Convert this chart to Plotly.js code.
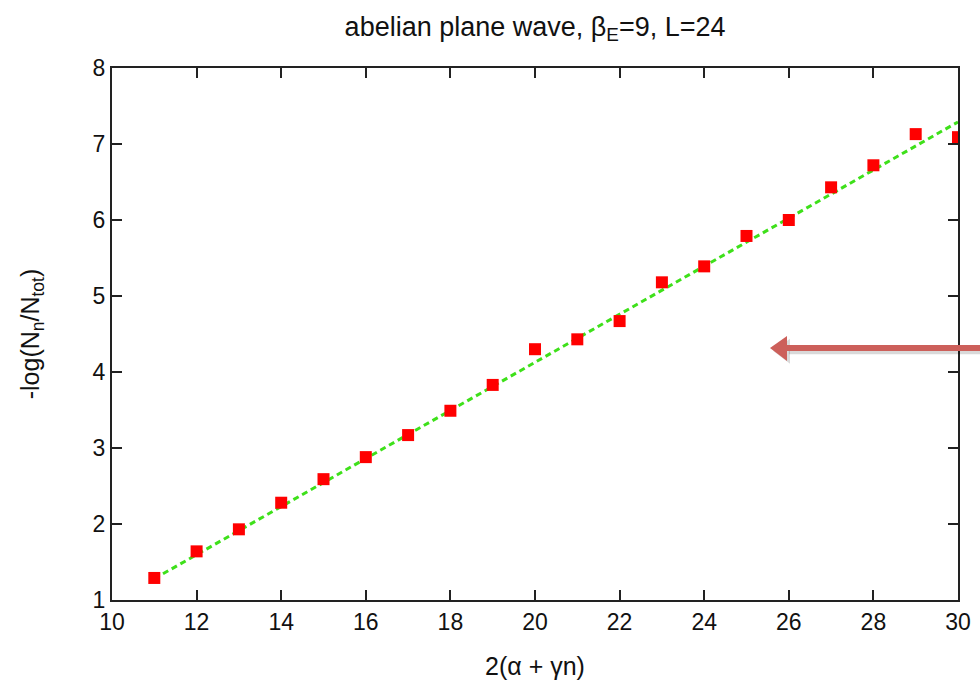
<!DOCTYPE html>
<html>
<head>
<meta charset="utf-8">
<script src="https://cdn.plot.ly/plotly-3.0.1.min.js"></script>
<style>html,body{margin:0;padding:0;background:#fff;}#chart{width:980px;height:687px;}</style>
</head>
<body>
<div id="chart"></div>
<script>
var xValues = [11, 12, 13, 14, 15, 16, 17, 18, 19, 20, 21, 22, 23, 24, 25, 26, 27, 28, 29, 30];
var yValues = [1.29, 1.64, 1.93, 2.28, 2.59, 2.88, 3.17, 3.49, 3.83, 4.30, 4.43, 4.67, 5.18, 5.39, 5.79, 6.00, 6.43, 6.72, 7.13, 7.09];
var fitX = [11, 30];
var fitY = [1.28, 7.29];
var xTicks = [10, 12, 14, 16, 18, 20, 22, 24, 26, 28, 30];
var yTicks = [1, 2, 3, 4, 5, 6, 7, 8];

var font = "Liberation Sans, Arial, sans-serif";
var traces = [
  {x: fitX, y: fitY, mode: 'lines', line: {color: '#3ee01a', width: 3, dash: '6px,4px'}, hoverinfo: 'skip'},
  {x: xValues, y: yValues, mode: 'markers', marker: {symbol: 'square', size: 12, color: '#ff0000'}}
];
var axisCommon = {
  showline: true, linecolor: '#222', linewidth: 2, mirror: 'ticks',
  ticks: 'inside', ticklen: 10, tickwidth: 2, tickcolor: '#222',
  showgrid: false, zeroline: false,
  tickfont: {family: font, size: 23, color: '#111'}
};
var layout = {
  width: 980, height: 687,
  margin: {l: 112, r: 22, t: 68, b: 87},
  paper_bgcolor: '#fff', plot_bgcolor: '#fff',
  showlegend: false,
  title: {text: 'abelian plane wave, β<sub>E</sub>=9, L=24', font: {family: font, size: 27, color: '#111'},
          x: 0.546, xanchor: 'center', y: 0.962, yanchor: 'middle', yref: 'container'},
  xaxis: Object.assign({}, axisCommon, {range: [10, 30], tickvals: xTicks,
          title: {text: '2(α + γn)', font: {family: font, size: 25, color: '#111'}, standoff: 24}}),
  yaxis: Object.assign({}, axisCommon, {range: [1, 8], tickvals: yTicks,
          title: {text: '-log(N<sub>n</sub>/N<sub>tot</sub>)', font: {family: font, size: 25, color: '#111'}, standoff: 46}}),
  shapes: [
    {type: 'line', xref: 'paper', yref: 'paper', x0: 0.80, x1: 1.04, y0: 0.4687, y1: 0.4687,
     line: {color: 'rgba(0,0,0,0.15)', width: 7}, layer: 'above'},
    {type: 'path', xref: 'paper', yref: 'paper', path: 'M 0.7813 0.4687 L 0.8014 0.4912 L 0.8014 0.4442 Z',
     fillcolor: 'rgba(0,0,0,0.15)', line: {width: 0}, layer: 'above'},
    {type: 'line', xref: 'paper', yref: 'paper', x0: 0.795, x1: 1.04, y0: 0.4737, y1: 0.4737,
     line: {color: '#cc5f5a', width: 6}, layer: 'above'},
    {type: 'path', xref: 'paper', yref: 'paper', path: 'M 0.7778 0.4737 L 0.7979 0.4962 L 0.7979 0.4492 Z',
     fillcolor: '#cc5f5a', line: {width: 0}, layer: 'above'}
  ]
};
Plotly.newPlot('chart', traces, layout, {displayModeBar: false, staticPlot: true});
</script>
</body>
</html>
